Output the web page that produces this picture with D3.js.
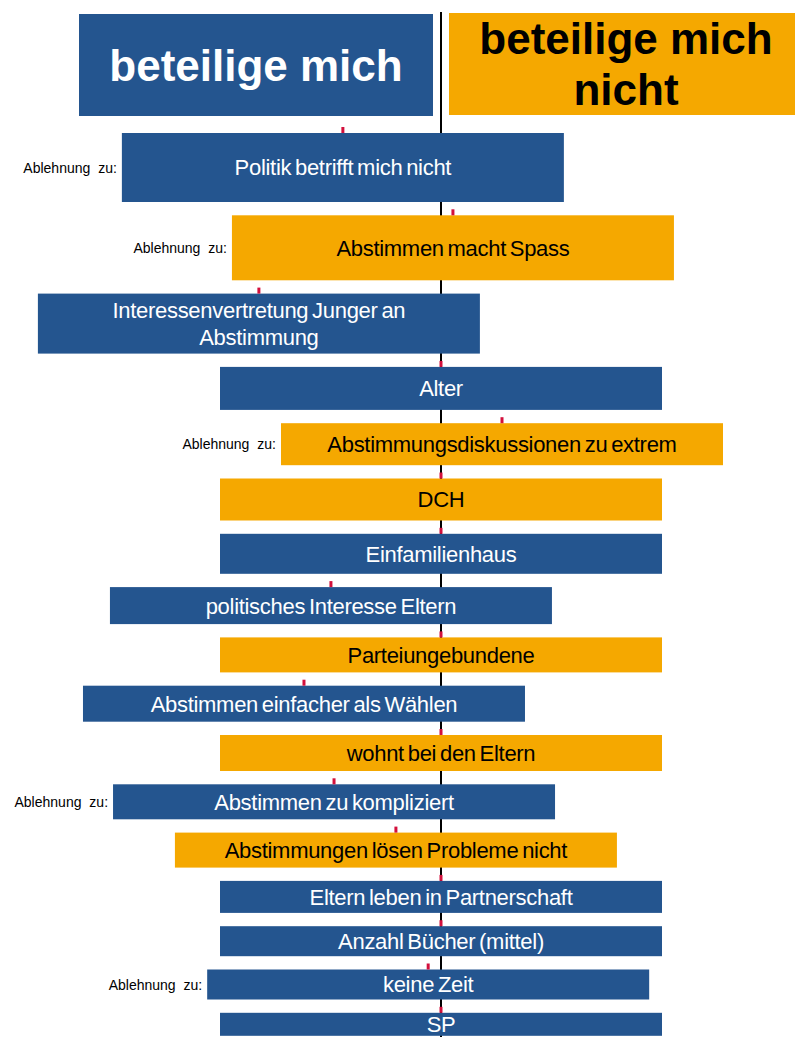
<!DOCTYPE html>
<html>
<head>
<meta charset="utf-8">
<script src="https://cdn.jsdelivr.net/npm/d3@7"></script>
<style>
  body { margin: 0; background: #fff; overflow: hidden; }
  svg { display: block; font-family: "Liberation Sans", Arial, sans-serif; }
</style>
</head>
<body>
<div id="chart"></div>
<script>
// chart data
var labels = [
  "Politik betrifft mich nicht",
  "Abstimmen macht Spass",
  "Interessenvertretung Junger an\nAbstimmung",
  "Alter",
  "Abstimmungsdiskussionen zu extrem",
  "DCH",
  "Einfamilienhaus",
  "politisches Interesse Eltern",
  "Parteiungebundene",
  "Abstimmen einfacher als Wählen",
  "wohnt bei den Eltern",
  "Abstimmen zu kompliziert",
  "Abstimmungen lösen Probleme nicht",
  "Eltern leben in Partnerschaft",
  "Anzahl Bücher (mittel)",
  "keine Zeit",
  "SP"
];
// negative = beteilige mich, positive = beteilige mich nicht
var effekt = [-0.222, 0.027, -0.412, 0, 0.138, 0, 0, -0.249, 0, -0.31, 0, -0.242, -0.102, 0, 0, -0.029, 0];
// importance -> box height
var gewicht = [6.9, 6.5, 6.0, 4.3, 4.2, 4.2, 4.0, 3.7, 3.5, 3.6, 3.6, 3.5, 3.5, 3.2, 3.0, 3.0, 2.3];
// group: 1 = beteilige mich (blue), 0 = beteilige mich nicht (orange)
var gruppe = [1, 0, 1, 1, 0, 0, 1, 1, 0, 1, 0, 1, 0, 1, 1, 1, 1];
var ablehnung = [1, 1, 0, 0, 1, 0, 0, 0, 0, 0, 0, 1, 0, 0, 0, 1, 0];
var kopf = ["beteilige mich", "beteilige mich\nnicht"];

var svgWidth = 795;
var svgHeight = 1037;
var blue = "#24558f";
var orange = "#f5a800";
var boxWidth = 442;
var gap = 13.3;
var top0 = 133;

var svg = d3.select("#chart")
  .append("svg")
  .attr("width", svgWidth)
  .attr("height", svgHeight);

var x = d3.scaleLinear().domain([-1, 1]).range([441 - boxWidth, 441 + boxWidth]);
var h = d3.scaleLinear().domain([0, 1]).range([0, 10]);

// build rows
var rows = labels.map(function(l, i) {
  return { label: l, v: effekt[i], w: gewicht[i], g: gruppe[i], abl: ablehnung[i] };
});
var yPos = top0;
rows.forEach(function(d) {
  d.y = yPos;
  d.h = h(d.w);
  yPos += d.h + gap;
});

// center line
svg.append("line")
  .attr("x1", x(0)).attr("x2", x(0))
  .attr("y1", 12).attr("y2", svgHeight)
  .attr("stroke", "#000")
  .attr("stroke-width", 2);

// header boxes
var header = [
  { text: kopf[0], x0: 79, x1: 433, y0: 14, y1: 116, fill: blue, color: "#fff" },
  { text: kopf[1], x0: 449, x1: 803, y0: 13, y1: 115, fill: orange, color: "#000" }
];
var hg = svg.selectAll("g.head").data(header).enter().append("g").attr("class", "head");
hg.append("rect")
  .attr("x", d => d.x0).attr("y", d => d.y0)
  .attr("width", d => d.x1 - d.x0).attr("height", d => d.y1 - d.y0)
  .attr("fill", d => d.fill);
hg.each(function(d) {
  var lines = d.text.split("\n");
  var cy = (d.y0 + d.y1) / 2;
  var lh = 51;
  var t = d3.select(this).append("text")
    .attr("text-anchor", "middle")
    .attr("font-weight", "bold")
    .attr("font-size", 44)
    .attr("fill", d.color);
  lines.forEach(function(l, i) {
    t.append("tspan")
      .attr("x", (d.x0 + d.x1) / 2)
      .attr("y", cy + (i - (lines.length - 1) / 2) * lh)
      .attr("dy", "0.36em")
      .text(l);
  });
});

// boxes
var rg = svg.selectAll("g.row").data(rows).enter().append("g").attr("class", "row");

rg.append("rect")
  .attr("x", d => x(d.v) - boxWidth / 2)
  .attr("y", d => d.y)
  .attr("width", boxWidth)
  .attr("height", d => d.h)
  .attr("fill", d => d.g ? blue : orange);

// red tick marks at box center
rg.append("rect")
  .attr("x", d => x(d.v) - 1.5)
  .attr("y", d => d.y - 6)
  .attr("width", 3)
  .attr("height", 6)
  .attr("fill", "#d3103c");

rg.each(function(d) {
  var lines = d.label.split("\n");
  var t = d3.select(this).append("text")
    .attr("text-anchor", "middle")
    .attr("font-size", 22)
    .attr("letter-spacing", -0.3)
    .attr("word-spacing", -2)
    .attr("fill", d.g ? "#fff" : "#000");
  lines.forEach(function(l, i) {
    t.append("tspan")
      .attr("x", x(d.v))
      .attr("y", d.y + d.h / 2 + (i - (lines.length - 1) / 2) * 27)
      .attr("dy", "0.36em")
      .text(l);
  });
});

// "Ablehnung zu:" labels
rg.filter(d => d.abl)
  .append("text")
  .attr("x", d => x(d.v) - boxWidth / 2 - 5)
  .attr("y", d => d.y + d.h / 2)
  .attr("dy", "0.36em")
  .attr("text-anchor", "end")
  .attr("font-size", 14)
  .attr("word-spacing", 4)
  .attr("fill", "#000")
  .text("Ablehnung zu:");
</script>
</body>
</html>
